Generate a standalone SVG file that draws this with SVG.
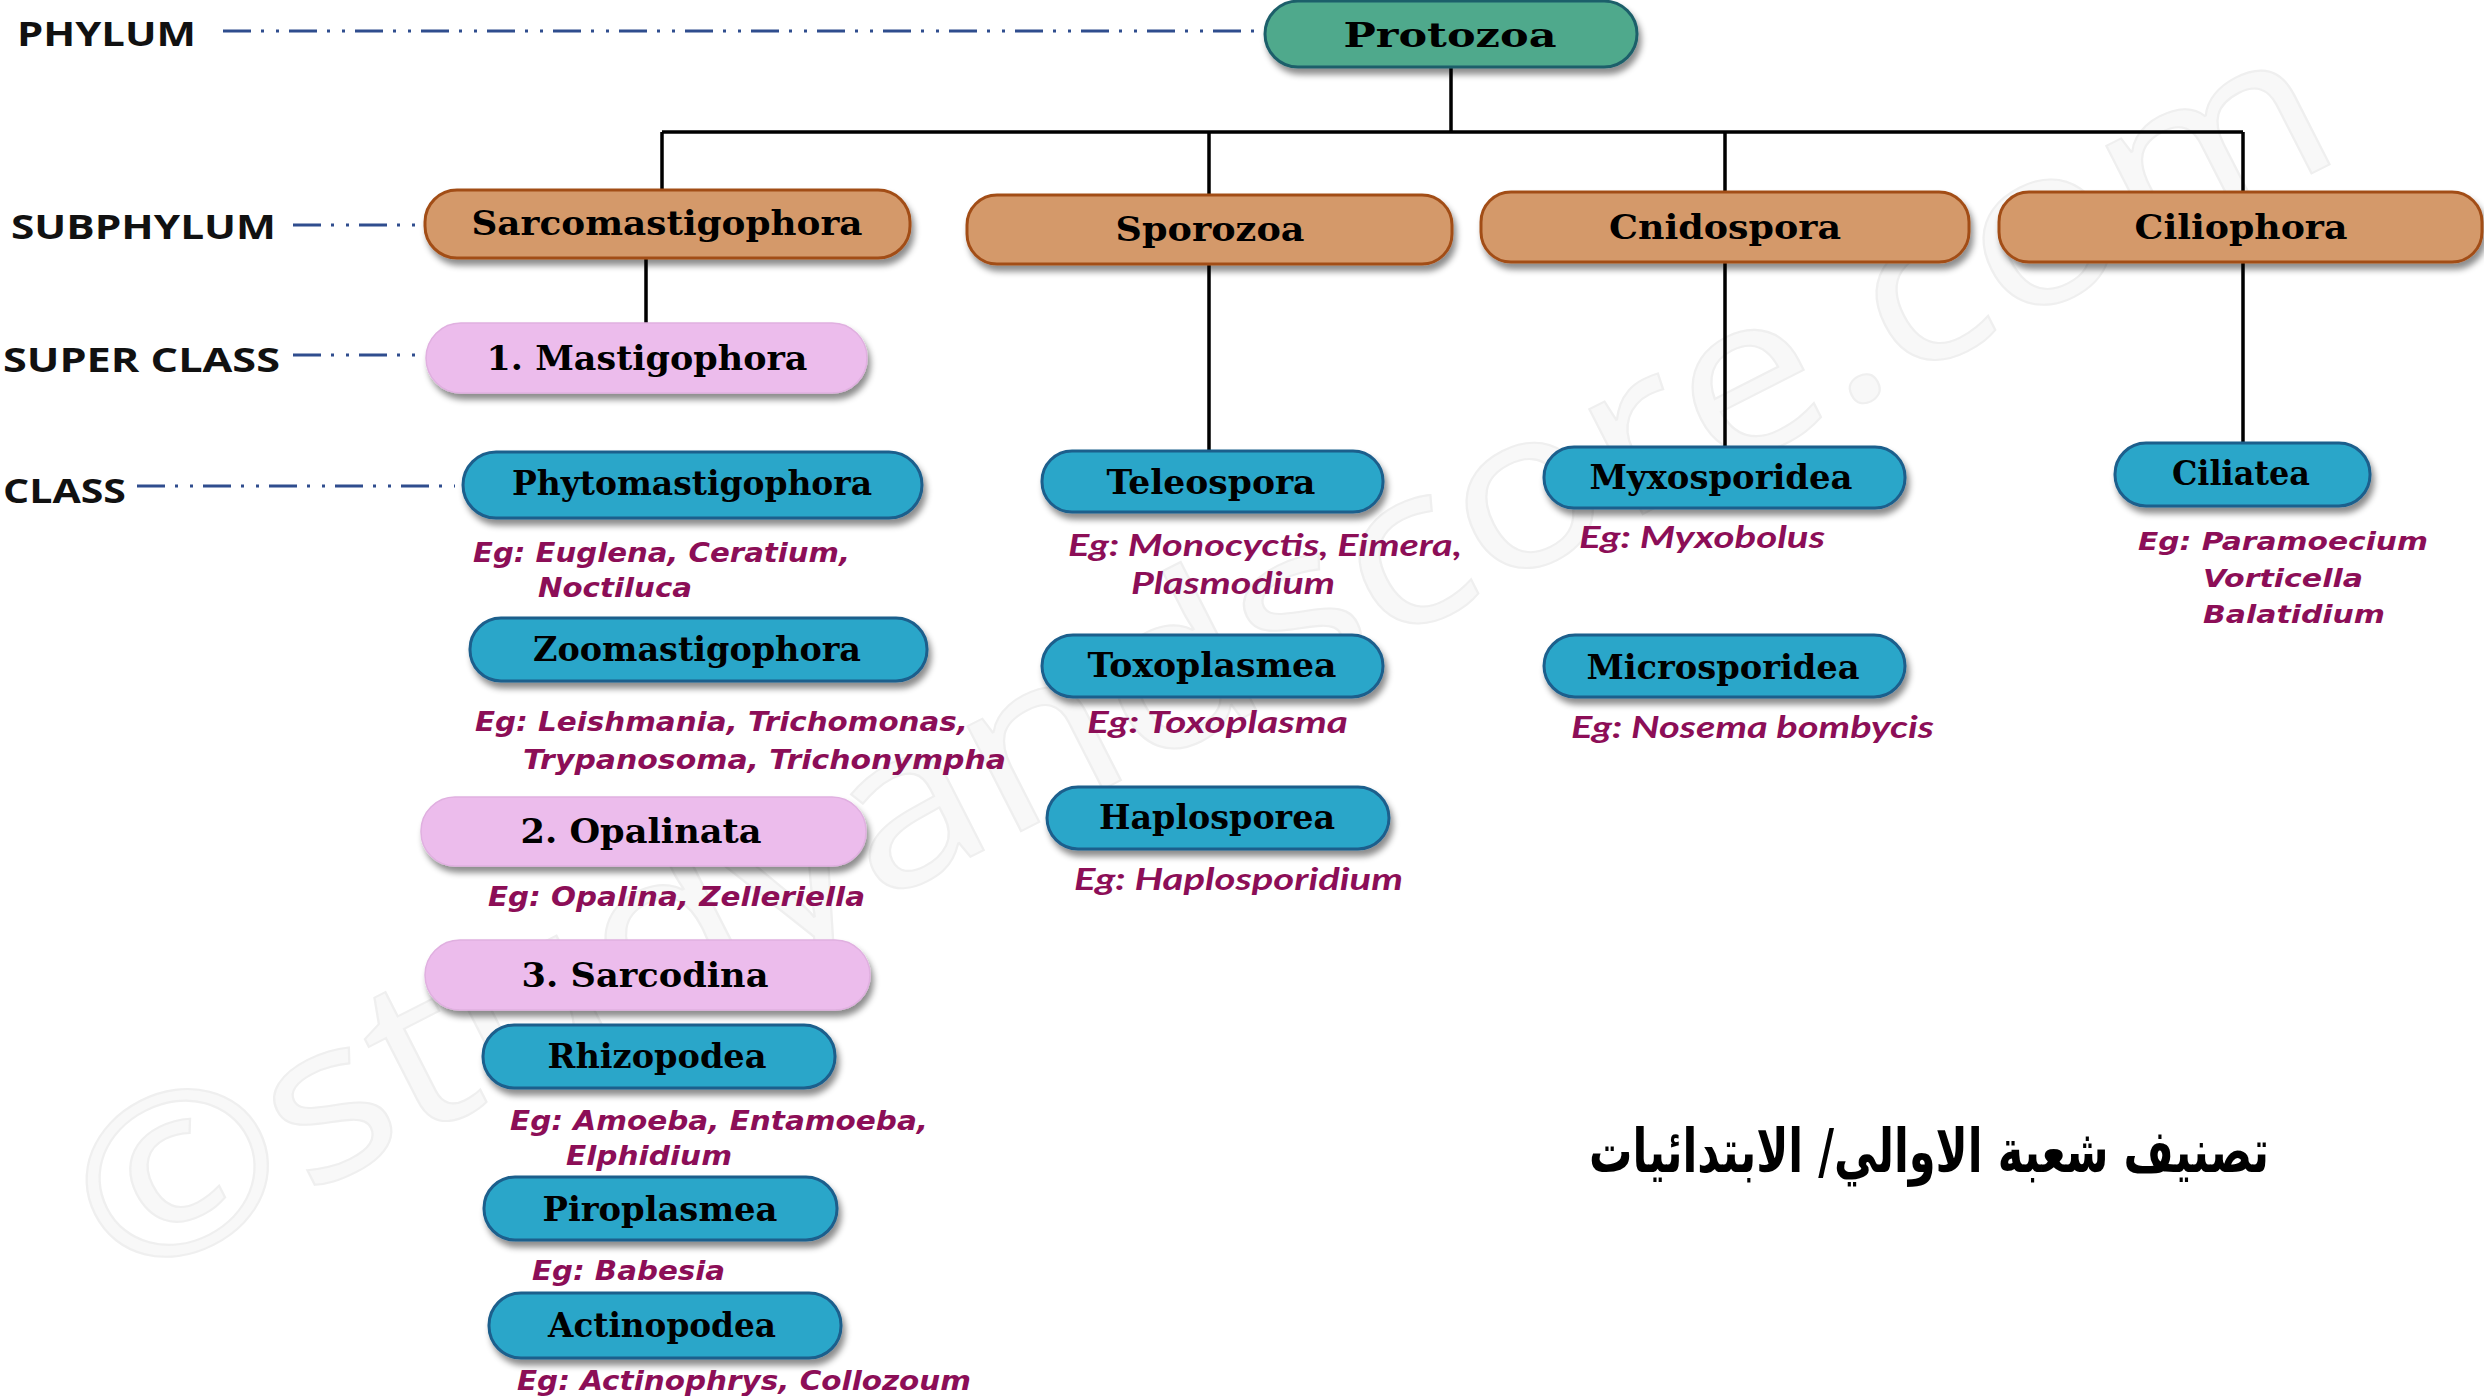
<svg xmlns="http://www.w3.org/2000/svg" width="2484" height="1397" viewBox="0 0 2484 1397">
<defs>
<filter id="sh" x="-10%" y="-30%" width="125%" height="180%">
<feDropShadow dx="3" dy="6" stdDeviation="3" flood-color="#000" flood-opacity="0.45"/>
</filter>
<style>
.lvl{font-family:"Open Sans","DejaVu Sans",sans-serif;font-weight:700;font-size:34px;fill:#111}
.nl{font-family:"DejaVu Serif","Liberation Serif",serif;font-weight:700;font-size:33px;fill:#000;text-anchor:middle}
.ex{font-family:"DejaVu Sans","Liberation Sans",sans-serif;font-weight:700;font-style:italic;font-size:27px;fill:#8C0E57}
.ex2{font-family:Lato,"Open Sans",sans-serif;font-weight:700;font-style:italic;font-size:31px;fill:#8C0E57}
.ex3{font-family:"DejaVu Sans","Liberation Sans",sans-serif;font-weight:700;font-style:italic;font-size:24px;fill:#8C0E57}
.dash{stroke:#2F4D8E;stroke-width:3;stroke-dasharray:28 10 3 12 3 10;fill:none}
.conn{stroke:#000;stroke-width:3.5;fill:none}
.phy{fill:#4FA98C;stroke:#1E5F6A;stroke-width:3;filter:url(#sh)}
.sub{fill:#D4996A;stroke:#A24E18;stroke-width:3;filter:url(#sh)}
.sup{fill:#ECBCEC;stroke:#E0B0E0;stroke-width:1.5;filter:url(#sh)}
.cls{fill:#2AA6C9;stroke:#1D5E8C;stroke-width:3;filter:url(#sh)}
.wm{font-family:"Open Sans","DejaVu Sans",sans-serif;font-size:220px;fill:#f8f8f8;stroke:#efefef;stroke-width:2}
.ar{font-family:"DejaVu Sans","Noto Sans",sans-serif;font-weight:700;font-size:60px;fill:#000}
</style>
</defs>
<rect width="2484" height="1397" fill="#fff"/>
<text class="wm" x="120" y="1290" transform="rotate(-27 120 1290)" textLength="2500" lengthAdjust="spacingAndGlyphs">©studyandscore.com</text>

<g id="levels">
<text class="lvl" x="17" y="46" font-size="36" textLength="179" lengthAdjust="spacingAndGlyphs">PHYLUM</text>
<text class="lvl" x="11" y="239" textLength="265" lengthAdjust="spacingAndGlyphs">SUBPHYLUM</text>
<text class="lvl" x="3" y="372" textLength="277" lengthAdjust="spacingAndGlyphs">SUPER CLASS</text>
<text class="lvl" x="3" y="503" textLength="123" lengthAdjust="spacingAndGlyphs">CLASS</text>
</g>

<g id="connectors">
<line class="dash" x1="223" y1="31" x2="1262" y2="31"/>
<line class="dash" x1="293" y1="225" x2="422" y2="225"/>
<line class="dash" x1="293" y1="355" x2="422" y2="355"/>
<line class="dash" x1="137" y1="486" x2="455" y2="486"/>
<path class="conn" d="M1451 67V132M662 132H2243M662 132V190M1209 132V195M1725 132V192M2243 132V192"/>
<path class="conn" d="M646 258V323M1209 265V451M1725 263V447M2243 263V443"/>
</g>

<g id="protozoa"><rect class="phy" x="1265" y="1" width="372" height="66" rx="33"/><text class="nl" x="1450" y="47" font-size="35" textLength="213" lengthAdjust="spacingAndGlyphs">Protozoa</text></g>

<g id="sarcomastigophora"><rect class="sub" x="425" y="190" width="485" height="68" rx="32"/><text class="nl" x="667" y="235" textLength="391" lengthAdjust="spacingAndGlyphs">Sarcomastigophora</text></g>
<g id="sporozoa"><rect class="sub" x="967" y="195" width="485" height="69" rx="30"/><text class="nl" x="1210" y="241" textLength="189" lengthAdjust="spacingAndGlyphs">Sporozoa</text></g>
<g id="cnidospora"><rect class="sub" x="1481" y="192" width="488" height="70" rx="30"/><text class="nl" x="1725" y="239" textLength="232" lengthAdjust="spacingAndGlyphs">Cnidospora</text></g>
<g id="ciliophora"><rect class="sub" x="1999" y="192" width="483" height="70" rx="30"/><text class="nl" x="2241" y="239" textLength="213" lengthAdjust="spacingAndGlyphs">Ciliophora</text></g>

<g id="mastigophora"><rect class="sup" x="426" y="323" width="441" height="70" rx="35"/><text class="nl" x="647" y="370" textLength="321" lengthAdjust="spacingAndGlyphs">1. Mastigophora</text></g>

<g id="phytomastigophora"><rect class="cls" x="463" y="452" width="459" height="66" rx="33"/><text class="nl" x="692" y="495" textLength="360" lengthAdjust="spacingAndGlyphs">Phytomastigophora</text>
<text class="ex" x="473" y="562" textLength="377" lengthAdjust="spacingAndGlyphs">Eg: Euglena, Ceratium,</text>
<text class="ex" x="538" y="597" textLength="154" lengthAdjust="spacingAndGlyphs">Noctiluca</text></g>

<g id="zoomastigophora"><rect class="cls" x="470" y="618" width="457" height="63" rx="31"/><text class="nl" x="697" y="661" textLength="328" lengthAdjust="spacingAndGlyphs">Zoomastigophora</text>
<text class="ex" x="475" y="731" textLength="493" lengthAdjust="spacingAndGlyphs">Eg: Leishmania, Trichomonas,</text>
<text class="ex" x="523" y="769" textLength="483" lengthAdjust="spacingAndGlyphs">Trypanosoma, Trichonympha</text></g>

<g id="opalinata"><rect class="sup" x="421" y="797" width="445" height="69" rx="34"/><text class="nl" x="641" y="843" textLength="241" lengthAdjust="spacingAndGlyphs">2. Opalinata</text>
<text class="ex" x="488" y="906" textLength="377" lengthAdjust="spacingAndGlyphs">Eg: Opalina, Zelleriella</text></g>

<g id="sarcodina"><rect class="sup" x="425" y="940" width="445" height="70" rx="35"/><text class="nl" x="645" y="987" textLength="247" lengthAdjust="spacingAndGlyphs">3. Sarcodina</text></g>

<g id="rhizopodea"><rect class="cls" x="483" y="1025" width="352" height="63" rx="31"/><text class="nl" x="657" y="1068" textLength="219" lengthAdjust="spacingAndGlyphs">Rhizopodea</text>
<text class="ex" x="510" y="1130" textLength="418" lengthAdjust="spacingAndGlyphs">Eg: Amoeba, Entamoeba,</text>
<text class="ex" x="566" y="1165" textLength="166" lengthAdjust="spacingAndGlyphs">Elphidium</text></g>

<g id="piroplasmea"><rect class="cls" x="484" y="1177" width="353" height="63" rx="31"/><text class="nl" x="660" y="1221" textLength="235" lengthAdjust="spacingAndGlyphs">Piroplasmea</text>
<text class="ex" x="532" y="1280" textLength="193" lengthAdjust="spacingAndGlyphs">Eg: Babesia</text></g>

<g id="actinopodea"><rect class="cls" x="489" y="1293" width="352" height="65" rx="32"/><text class="nl" x="662" y="1337" textLength="228" lengthAdjust="spacingAndGlyphs">Actinopodea</text>
<text class="ex" x="517" y="1390" textLength="454" lengthAdjust="spacingAndGlyphs">Eg: Actinophrys, Collozoum</text></g>

<g id="teleospora"><rect class="cls" x="1042" y="451" width="341" height="61" rx="30"/><text class="nl" x="1211" y="494" textLength="209" lengthAdjust="spacingAndGlyphs">Teleospora</text>
<text class="ex2" x="1068" y="556" textLength="394" lengthAdjust="spacingAndGlyphs">Eg: Monocyctis, Eimera,</text>
<text class="ex2" x="1131" y="594" textLength="204" lengthAdjust="spacingAndGlyphs">Plasmodium</text></g>

<g id="toxoplasmea"><rect class="cls" x="1042" y="635" width="341" height="62" rx="31"/><text class="nl" x="1212" y="677" textLength="249" lengthAdjust="spacingAndGlyphs">Toxoplasmea</text>
<text class="ex2" x="1087" y="733" textLength="261" lengthAdjust="spacingAndGlyphs">Eg: Toxoplasma</text></g>

<g id="haplosporea"><rect class="cls" x="1047" y="787" width="342" height="62" rx="31"/><text class="nl" x="1217" y="829" textLength="236" lengthAdjust="spacingAndGlyphs">Haplosporea</text>
<text class="ex2" x="1074" y="890" textLength="329" lengthAdjust="spacingAndGlyphs">Eg: Haplosporidium</text></g>

<g id="myxosporidea"><rect class="cls" x="1544" y="447" width="361" height="61" rx="30"/><text class="nl" x="1721" y="489" textLength="263" lengthAdjust="spacingAndGlyphs">Myxosporidea</text>
<text class="ex2" x="1579" y="548" textLength="246" lengthAdjust="spacingAndGlyphs">Eg: Myxobolus</text></g>

<g id="microsporidea"><rect class="cls" x="1544" y="635" width="361" height="62" rx="31"/><text class="nl" x="1723" y="679" textLength="273" lengthAdjust="spacingAndGlyphs">Microsporidea</text>
<text class="ex2" x="1571" y="738" textLength="363" lengthAdjust="spacingAndGlyphs">Eg: Nosema bombycis</text></g>

<g id="ciliatea"><rect class="cls" x="2115" y="443" width="255" height="63" rx="31"/><text class="nl" x="2241" y="485" textLength="138" lengthAdjust="spacingAndGlyphs">Ciliatea</text>
<text class="ex3" x="2138" y="550" textLength="290" lengthAdjust="spacingAndGlyphs">Eg: Paramoecium</text>
<text class="ex3" x="2203" y="587" textLength="160" lengthAdjust="spacingAndGlyphs">Vorticella</text>
<text class="ex3" x="2203" y="623" textLength="182" lengthAdjust="spacingAndGlyphs">Balatidium</text></g>

<g id="title"><text class="ar" x="1929" y="1172" direction="rtl" text-anchor="middle" textLength="680" lengthAdjust="spacingAndGlyphs">تصنيف شعبة الاوالي/ الابتدائيات</text></g>
</svg>
